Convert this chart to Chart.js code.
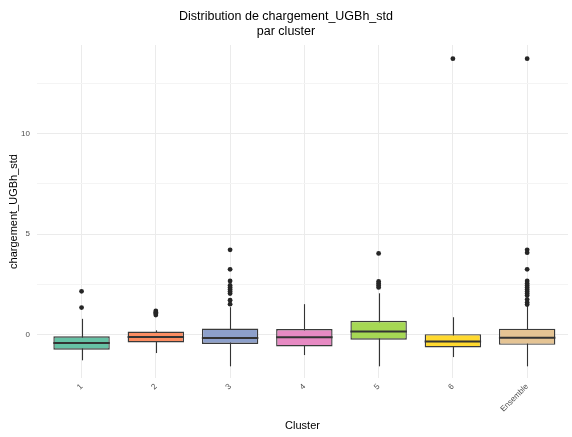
<!DOCTYPE html>
<html>
<head>
<meta charset="utf-8">
<script src="https://cdn.jsdelivr.net/npm/chart.js@4/dist/chart.umd.min.js"></script>
<style>
  html, body { margin: 0; padding: 0; background: #ffffff; }
  #wrap { width: 572px; height: 437px; }
</style>
</head>
<body>
<div id="wrap"><canvas id="c" width="572" height="437"></canvas></div>
<script>
// Clusters on the x axis
const categories = ['1', '2', '3', '4', '5', '6', 'Ensemble'];

// Box-plot statistics per cluster
const q1       = [-0.74, -0.38, -0.46, -0.58, -0.25, -0.63, -0.50];
const medians  = [-0.41, -0.11, -0.16, -0.13,  0.16, -0.33, -0.15];
const q3       = [-0.08,  0.16,  0.31,  0.28,  0.69,  0.03,  0.30];
const whiskerLow  = [-1.27, -0.91, -1.57, -1.01, -1.57, -1.11, -1.57];
const whiskerHigh = [ 0.79,  0.22,  1.37,  1.52,  2.06,  0.87,  1.45];

// Points beyond the whiskers
const outliers = [
  [2.16, 1.35],
  [1.18, 1.12, 1.05, 0.98],
  [4.22, 3.25, 2.67, 2.45, 2.35, 2.25, 2.15, 2.05, 1.72, 1.52],
  [],
  [4.04, 2.65, 2.55, 2.45, 2.35],
  [13.72],
  [13.72, 4.22, 4.08, 3.25, 2.67, 2.55, 2.45, 2.35, 2.25, 2.15, 2.05, 1.95, 1.75, 1.60, 1.50]
];

// Major y tick values (labelled)
const yTickLabels = [0, 5, 10];

const fillColors = ['#66C2A5', '#FC8D62', '#8DA0CB', '#E78AC3', '#A6D854', '#FFD92F', '#E5C494'];
const FONT = '"Liberation Sans", Arial, "DejaVu Sans", sans-serif';

// Whiskers behind the boxes, medians on top of them
const boxPlotPlugin = {
  id: 'boxPlotLines',
  beforeDatasetsDraw(chart) {
    const { ctx, scales: { x, y } } = chart;
    ctx.save();
    ctx.strokeStyle = '#333333';
    ctx.lineWidth = 1.1;
    categories.forEach((c, i) => {
      const px = Math.round(x.getPixelForValue(i)) + 0.5;
      ctx.beginPath();
      ctx.moveTo(px, y.getPixelForValue(whiskerLow[i]));
      ctx.lineTo(px, y.getPixelForValue(whiskerHigh[i]));
      ctx.stroke();
    });
    ctx.restore();
  },
  afterDatasetsDraw(chart) {
    const { ctx, scales: { y } } = chart;
    const meta = chart.getDatasetMeta(1);
    ctx.save();
    ctx.strokeStyle = '#333333';
    ctx.lineWidth = 2;
    meta.data.forEach((bar, i) => {
      const py = y.getPixelForValue(medians[i]);
      ctx.beginPath();
      ctx.moveTo(bar.x - bar.width / 2, py);
      ctx.lineTo(bar.x + bar.width / 2, py);
      ctx.stroke();
    });
    ctx.restore();
  }
};

const outlierPoints = outliers.flatMap((arr, i) => arr.map(v => ({ x: i, y: v })));

new Chart(document.getElementById('c'), {
  type: 'bar',
  data: {
    datasets: [
      {
        type: 'scatter',
        data: outlierPoints,
        backgroundColor: '#262626',
        borderColor: '#262626',
        pointRadius: 2.4,
        pointBorderWidth: 0,
        order: 0
      },
      {
        type: 'bar',
        data: categories.map((c, i) => ({ x: i, y: [q1[i], q3[i]] })),
        backgroundColor: fillColors,
        borderColor: '#3a3a3a',
        borderWidth: 1.4,
        borderSkipped: false,
        barPercentage: 0.76,
        categoryPercentage: 1,
        order: 1
      }
    ]
  },
  options: {
    responsive: false,
    animation: false,
    layout: { padding: { left: 0, right: 0, top: 0, bottom: 0 } },
    plugins: {
      legend: { display: false },
      tooltip: { enabled: false },
      title: {
        display: true,
        text: ['Distribution de chargement_UGBh_std', 'par cluster'],
        color: '#000000',
        font: { family: FONT, size: 12.5, weight: 'normal', lineHeight: 1.2 },
        padding: { top: 9.5, bottom: 5.5 }
      }
    },
    scales: {
      x: {
        type: 'linear',
        offset: false,
        min: -0.6,
        max: 6.55,
        afterBuildTicks: s => { s.ticks = categories.map((c, i) => ({ value: i })); },
        afterFit: s => { s.height = 59; },
        ticks: {
          autoSkip: false,
          minRotation: 45,
          maxRotation: 45,
          padding: 4,
          color: '#4D4D4D',
          font: { family: FONT, size: 8 },
          callback: v => categories[v]
        },
        grid: { offset: false, color: '#EBEBEB', lineWidth: 1, drawTicks: false },
        border: { display: false },
        title: {
          display: true,
          text: 'Cluster',
          color: '#000000',
          font: { family: FONT, size: 11 },
          padding: { top: 0, bottom: 4 }
        }
      },
      y: {
        min: -2.15,
        max: 14.4,
        afterFit: s => { s.width = 37; },
        ticks: {
          stepSize: 2.5,
          includeBounds: false,
          padding: 7,
          color: '#4D4D4D',
          font: { family: FONT, size: 8 },
          callback: v => (yTickLabels.includes(v) ? String(v) : '')
        },
        grid: {
          drawTicks: false,
          color: c => (yTickLabels.includes(c.tick && c.tick.value) ? '#EBEBEB' : '#F4F4F4'),
          lineWidth: 1
        },
        border: { display: false },
        title: {
          display: true,
          text: 'chargement_UGBh_std',
          color: '#000000',
          font: { family: FONT, size: 11 },
          padding: { top: 7, bottom: 0 }
        }
      }
    }
  },
  plugins: [boxPlotPlugin]
});
</script>
</body>
</html>
